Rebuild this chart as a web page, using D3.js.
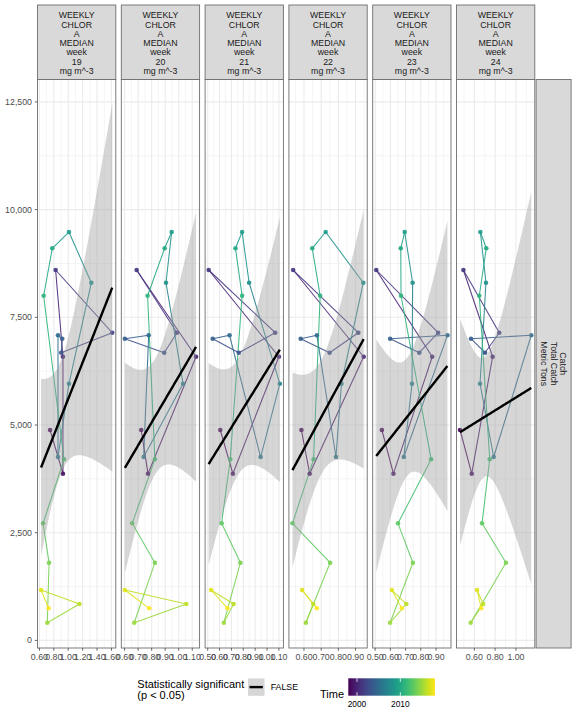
<!DOCTYPE html>
<html><head><meta charset="utf-8">
<script src="https://cdn.jsdelivr.net/npm/d3@7"></script>
<style>body{margin:0;background:#fff}svg{font-family:"Liberation Sans",Arial,Helvetica,sans-serif}</style>
</head><body><svg id="chart" width="576" height="720"></svg>
<script>
// ---------------- data ----------------
const years = [1998,1999,2000,2001,2002,2003,2004,2005,2006,2007,2008,2009,2010,2011,2012,2013,2014,2015,2016,2017,2018];
const catchTons = [4884,3870,6585,8598,7142,6678,7003,7082,4257,5959,8303,9480,9102,8001,4204,2718,1804,411,845,1170,745];
const weeks = [19,20,21,22,23,24];
const chlorWeek19 = [0.748,0.927,0.927,0.825,1.611,0.903,0.917,0.858,0.858,1.010,1.321,1.010,0.779,0.659,0.941,0.651,0.734,0.710,1.156,0.623,0.728];
const chlorWeek20 = [0.723,0.773,1.128,0.689,0.987,0.893,0.602,0.778,0.741,1.032,0.906,0.948,0.896,0.770,0.824,0.656,0.824,0.671,1.056,0.602,0.782];
const chlorWeek21 = [0.606,0.712,1.100,0.508,1.069,0.762,0.542,0.684,0.946,1.108,0.849,0.790,0.734,0.790,0.690,0.617,0.776,0.636,0.718,0.528,0.667];
const chlorWeek22 = [0.585,0.633,0.947,0.537,0.916,0.749,0.581,0.675,0.786,0.818,0.945,0.726,0.648,0.694,0.656,0.533,0.752,0.611,0.654,0.589,0.675];
const chlorWeek23 = [0.544,0.620,0.875,0.507,0.914,0.790,0.598,0.975,0.688,0.742,0.746,0.694,0.668,0.670,0.868,0.650,0.748,0.598,0.705,0.609,0.675];
const chlorWeek24 = [0.463,0.575,0.776,0.495,0.840,0.703,0.568,1.147,0.786,0.655,0.712,0.658,0.715,0.648,0.748,0.674,0.904,0.565,0.686,0.626,0.667];
const xTicksWeek19 = [0.6,0.8,1.0,1.2,1.4,1.6];
const xTicksWeek20 = [0.6,0.7,0.8,0.9,1.0,1.1];
const xTicksWeek21 = [0.5,0.6,0.7,0.8,0.9,1.0,1.1];
const xTicksWeek22 = [0.6,0.7,0.8,0.9];
const xTicksWeek23 = [0.5,0.6,0.7,0.8,0.9];
const xTicksWeek24 = [0.6,0.8,1.0];
const yTicks = [0,2500,5000,7500,10000,12500];
const yDomain = [-176, 13020];
const legendYearTicks = [2000, 2010];
const stripLines = ["WEEKLY","CHLOR","A","MEDIAN","week"];
const stripUnit = "mg m^-3";
const rowStripLines = ["Catch","Total Catch","Metric Tons"];
const significantLabels = ["FALSE"];

const chlorByWeek = [chlorWeek19,chlorWeek20,chlorWeek21,chlorWeek22,chlorWeek23,chlorWeek24];
const ticksByWeek = [xTicksWeek19,xTicksWeek20,xTicksWeek21,xTicksWeek22,xTicksWeek23,xTicksWeek24];

// ---------------- layout ----------------
const svg = d3.select("#chart");
const pTop = 79.5, pBottom = 648, left0 = 37.5, pw = 78.3, pstep = 83.8;
const stripTop = 5;
const gridCol = "#ebebeb", borderCol = "#6e6e6e", axisTxt = "#4d4d4d";
const yearExtent = d3.extent(years);
const color = d3.scaleSequential(d3.interpolateViridis).domain(yearExtent);
const y = d3.scaleLinear().domain(yDomain).range([pBottom, pTop]);

const defs = svg.append("defs");

// y axis labels & ticks
const yAxisG = svg.append("g");
yTicks.forEach(t => {
  yAxisG.append("line").attr("x1", left0-2.75).attr("x2", left0).attr("y1", y(t)).attr("y2", y(t))
    .attr("stroke", "#444").attr("stroke-width", 0.8);
  yAxisG.append("text").attr("x", left0-5.5).attr("y", y(t)).attr("dy","0.35em")
    .attr("text-anchor","end").attr("font-size", 8.8).attr("fill", axisTxt)
    .text(d3.format(",")(t));
});

const tq = 2.093; // t(0.975, df=19)

weeks.forEach((wk, i) => {
  const xs = chlorByWeek[i];
  const x0 = left0 + i*pstep;
  const ext = d3.extent(xs);
  const pad = (ext[1]-ext[0])*0.05;
  const x = d3.scaleLinear().domain([ext[0]-pad, ext[1]+pad]).range([x0, x0+pw]);
  const g = svg.append("g");
  defs.append("clipPath").attr("id","clip"+i).append("rect")
    .attr("x", x0).attr("y", pTop).attr("width", pw).attr("height", pBottom-pTop);

  g.append("rect").attr("x", x0).attr("y", pTop).attr("width", pw).attr("height", pBottom-pTop).attr("fill","#fff");
  const ticks = ticksByWeek[i].filter(t => t >= x.domain()[0] && t <= x.domain()[1]);
  const step = ticksByWeek[i][1]-ticksByWeek[i][0];
  const minors = [];
  for (let m = ticksByWeek[i][0]-step/2; m <= ticksByWeek[i][ticksByWeek[i].length-1]+step/2+1e-9; m += step) {
    if (m >= x.domain()[0] && m <= x.domain()[1]) minors.push(m);
  }
  const yMinors = [];
  for (let m = -1250; m <= 13750; m += 2500) if (m >= yDomain[0] && m <= yDomain[1]) yMinors.push(m);
  const grid = g.append("g");
  yMinors.forEach(m => grid.append("line").attr("x1",x0).attr("x2",x0+pw).attr("y1",y(m)).attr("y2",y(m)).attr("stroke",gridCol).attr("stroke-width",0.55));
  minors.forEach(m => grid.append("line").attr("x1",x(m)).attr("x2",x(m)).attr("y1",pTop).attr("y2",pBottom).attr("stroke",gridCol).attr("stroke-width",0.55));
  yTicks.forEach(t => grid.append("line").attr("x1",x0).attr("x2",x0+pw).attr("y1",y(t)).attr("y2",y(t)).attr("stroke",gridCol).attr("stroke-width",1.1));
  ticks.forEach(t => grid.append("line").attr("x1",x(t)).attr("x2",x(t)).attr("y1",pTop).attr("y2",pBottom).attr("stroke",gridCol).attr("stroke-width",1.1));

  const pts = years.map((yr, k) => ({year: yr, cx: xs[k], cy: catchTons[k]}));
  const clipped = g.append("g").attr("clip-path", `url(#clip${i})`);

  for (let k = 0; k < pts.length-1; k++) {
    clipped.append("line")
      .attr("x1", x(pts[k].cx)).attr("y1", y(pts[k].cy))
      .attr("x2", x(pts[k+1].cx)).attr("y2", y(pts[k+1].cy))
      .attr("stroke", color(pts[k].year)).attr("stroke-width", 1.05).attr("stroke-opacity", 0.9);
  }
  clipped.selectAll("circle.pt").data(pts).join("circle")
    .attr("cx", d => x(d.cx)).attr("cy", d => y(d.cy)).attr("r", 2.3)
    .attr("fill", d => color(d.year)).attr("fill-opacity", 0.9);

  const n = xs.length;
  const xbar = d3.mean(xs), ybar = d3.mean(catchTons);
  let sxx = 0, sxy = 0;
  for (let k = 0; k < n; k++) { sxx += (xs[k]-xbar)**2; sxy += (xs[k]-xbar)*(catchTons[k]-ybar); }
  const b = sxy/sxx, a = ybar - b*xbar;
  let sse = 0;
  for (let k = 0; k < n; k++) sse += (catchTons[k] - (a + b*xs[k]))**2;
  const s = Math.sqrt(sse/(n-2));
  const grid80 = d3.range(80).map(j => ext[0] + (ext[1]-ext[0])*j/79);
  const fitData = grid80.map(xv => {
    const fit = a + b*xv;
    const se = s*Math.sqrt(1/n + (xv-xbar)**2/sxx);
    return {xv, fit, lo: fit - tq*se, hi: fit + tq*se};
  });
  clipped.append("path").datum(fitData)
    .attr("d", d3.area().x(d => x(d.xv)).y0(d => y(d.lo)).y1(d => y(d.hi)))
    .attr("fill", "#999999").attr("fill-opacity", 0.4);
  clipped.append("path").datum(fitData)
    .attr("d", d3.line().x(d => x(d.xv)).y(d => y(d.fit)))
    .attr("fill","none").attr("stroke","#000").attr("stroke-width", 2.4);

  g.append("rect").attr("x", x0).attr("y", pTop).attr("width", pw).attr("height", pBottom-pTop)
    .attr("fill","none").attr("stroke", borderCol).attr("stroke-width", 0.9);

  ticks.forEach(t => {
    g.append("line").attr("x1",x(t)).attr("x2",x(t)).attr("y1",pBottom).attr("y2",pBottom+2.75).attr("stroke","#444").attr("stroke-width",0.8);
    g.append("text").attr("x", x(t)).attr("y", pBottom+12).attr("text-anchor","middle")
      .attr("font-size", 8.8).attr("fill", axisTxt).text(d3.format(".2f")(t));
  });

  g.append("rect").attr("x", x0).attr("y", stripTop).attr("width", pw).attr("height", pTop-stripTop)
    .attr("fill","#d9d9d9").attr("stroke", borderCol).attr("stroke-width", 0.9);
  const lines = stripLines.concat([String(wk), stripUnit]);
  lines.forEach((ln, j) => {
    g.append("text").attr("x", x0+pw/2).attr("y", 15.3 + j*9.25).attr("dy","0.35em")
      .attr("text-anchor","middle").attr("font-size", 8.8).attr("fill","#1a1a1a").text(ln);
  });
});

// right strip
const rsx = left0 + 5*pstep + pw + 1.3, rsw = 35;
svg.append("rect").attr("x", rsx).attr("y", pTop).attr("width", rsw).attr("height", pBottom-pTop)
  .attr("fill","#d9d9d9").attr("stroke", borderCol).attr("stroke-width", 0.9);
const rg = svg.append("g").attr("transform", `translate(${rsx+rsw/2},${(pTop+pBottom)/2}) rotate(90)`);
rowStripLines.forEach((ln, j) => {
  rg.append("text").attr("x", 0).attr("y", (j-1)*9.3).attr("dy","0.35em")
    .attr("text-anchor","middle").attr("font-size", 8.8).attr("fill","#1a1a1a").text(ln);
});

// legend: statistically significant
const lg = svg.append("g");
lg.append("text").attr("x", 137.3).attr("y", 688).attr("font-size", 11).attr("fill","#000").text("Statistically significant");
lg.append("text").attr("x", 137.3).attr("y", 698.5).attr("font-size", 11).attr("fill","#000").text("(p < 0.05)");
significantLabels.forEach((lab, j) => {
  lg.append("rect").attr("x", 248).attr("y", 678.5).attr("width", 16.5).attr("height", 17.3)
    .attr("fill","#999999").attr("fill-opacity",0.4);
  lg.append("line").attr("x1", 249.5).attr("x2", 262.8).attr("y1", 687.1).attr("y2", 687.1)
    .attr("stroke","#000").attr("stroke-width", 2.4);
  lg.append("text").attr("x", 270.7).attr("y", 687.1).attr("dy","0.35em").attr("font-size", 8.8).attr("fill","#000").text(lab);
});

// legend: colorbar
lg.append("text").attr("x", 320).attr("y", 697.5).attr("font-size", 11).attr("fill","#000").text("Time");
const cbX0 = 348.3, cbX1 = 435, cbY = 678.3, cbH = 17.4;
const grad = defs.append("linearGradient").attr("id","vgrad").attr("x1","0%").attr("x2","100%").attr("y1","0%").attr("y2","0%");
d3.range(0, 1.0001, 0.05).forEach(t => grad.append("stop").attr("offset", (t*100)+"%").attr("stop-color", d3.interpolateViridis(t)));
lg.append("rect").attr("x", cbX0).attr("y", cbY).attr("width", cbX1-cbX0).attr("height", cbH).attr("fill","url(#vgrad)");
const cbScale = d3.scaleLinear().domain(yearExtent).range([cbX0, cbX1]);
legendYearTicks.forEach(yr => {
  const xx = cbScale(yr);
  lg.append("line").attr("x1",xx).attr("x2",xx).attr("y1",cbY).attr("y2",cbY+3.5).attr("stroke","#fff").attr("stroke-width",0.8);
  lg.append("line").attr("x1",xx).attr("x2",xx).attr("y1",cbY+cbH-3.5).attr("y2",cbY+cbH).attr("stroke","#fff").attr("stroke-width",0.8);
  lg.append("text").attr("x", xx).attr("y", 706.5).attr("text-anchor","middle").attr("font-size", 8.4).attr("fill","#000").text(yr);
});
</script>
</body></html>
